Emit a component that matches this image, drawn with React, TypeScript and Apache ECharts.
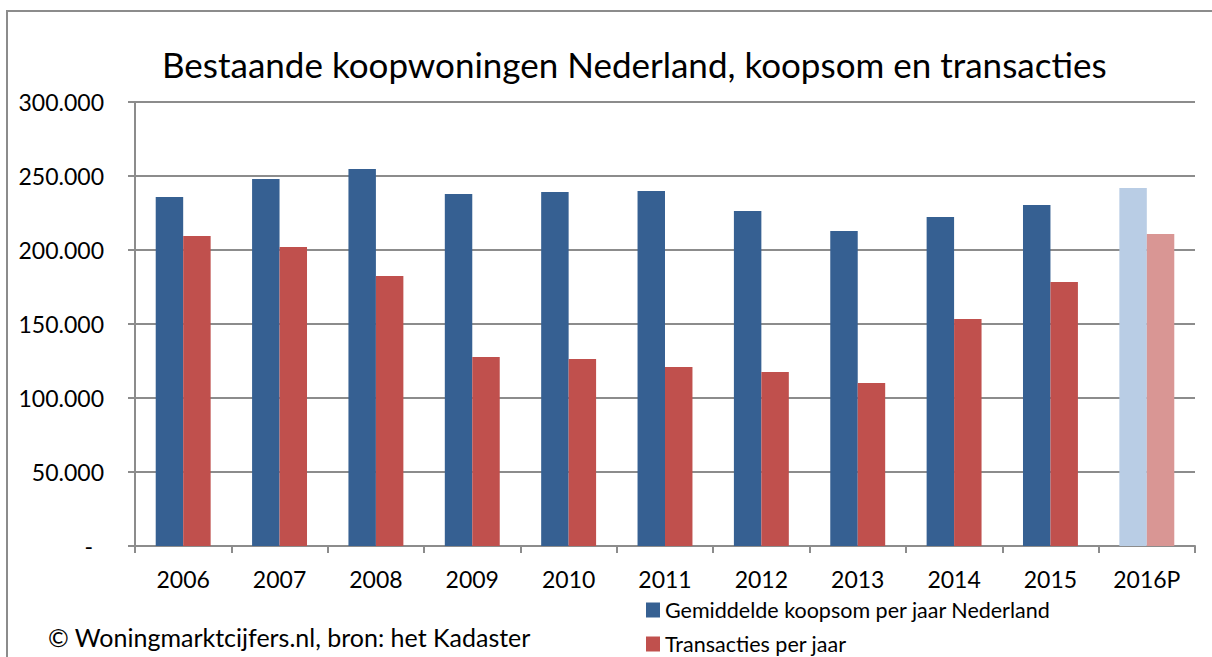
import React, { useEffect, useRef } from "react";
import * as echarts from "echarts";

const categories = ["2006", "2007", "2008", "2009", "2010", "2011", "2012", "2013", "2014", "2015", "2016P"];
const koopsom = [235800, 248000, 254700, 237800, 239200, 239900, 226400, 212800, 222300, 230400, 241900];
const transacties = [209500, 202000, 182400, 127700, 126400, 120900, 117600, 110100, 153400, 178400, 210800];
const yTicks = [0, 50000, 100000, 150000, 200000, 250000, 300000];

const seriesNames = ["Gemiddelde koopsom per jaar Nederland", "Transacties per jaar"];
const titleText = "Bestaande koopwoningen Nederland, koopsom en transacties";
const sourceText = "© Woningmarktcijfers.nl, bron: het Kadaster";

const BLUE = "#366092";
const RED = "#C0504D";
const BLUE_LIGHT = "#B9CDE5";
const RED_LIGHT = "#D99694";
const FONT = "Lato";

function fmt(v: number): string {
  if (v === 0) return "{d|-}";
  return String(v).replace(/\B(?=(\d{3})+(?!\d))/g, ".");
}

export default function App() {
  const ref = useRef<HTMLDivElement>(null);
  useEffect(() => {
    if (!ref.current) return;
    const chart = echarts.init(ref.current, undefined, { renderer: "svg" });
    const last = categories.length - 1;
    chart.setOption({
      animation: false,
      backgroundColor: "#ffffff",
      textStyle: { fontFamily: FONT },
      title: {
        text: titleText,
        left: 157,
        top: 41,
        textStyle: { fontFamily: FONT, fontSize: 35, fontWeight: "normal", color: "#000" },
      },
      graphic: [
        {
          type: "rect",
          shape: { x: 7, y: 11, width: 1300, height: 800 },
          style: { fill: "none", stroke: "#8c8c8c", lineWidth: 2 },
          silent: true,
        },
        {
          type: "text",
          left: 48,
          top: 624,
          style: { text: sourceText, font: `25px ${FONT}`, fill: "#000" },
        },
      ],
      legend: {
        orient: "vertical",
        left: 646,
        top: 598,
        height: 90,
        padding: 0,
        itemWidth: 14,
        itemHeight: 15,
        itemGap: 10,
        icon: "rect",
        textStyle: { fontFamily: FONT, fontSize: 21.5, lineHeight: 24, color: "#000" },
        data: seriesNames,
      },
      grid: { left: 135, right: 17, top: 102, bottom: 111, containLabel: false },
      xAxis: {
        type: "category",
        data: categories,
        axisLine: { lineStyle: { color: "#8c8c8c", width: 2 } },
        axisTick: { show: true, length: 7, lineStyle: { color: "#8c8c8c", width: 2 } },
        axisLabel: { margin: 21, fontFamily: FONT, fontSize: 23, color: "#000", interval: 0 },
      },
      yAxis: {
        type: "value",
        min: 0,
        max: 300000,
        interval: 50000,
        axisLine: { show: true, lineStyle: { color: "#8c8c8c", width: 2 } },
        axisTick: { show: true, length: 7, lineStyle: { color: "#8c8c8c", width: 2 } },
        splitLine: { lineStyle: { color: "#8c8c8c", width: 2 } },
        axisLabel: {
          margin: 31,
          fontFamily: FONT,
          fontSize: 23,
          color: "#000",
          formatter: (v: number) => (yTicks.includes(v) ? fmt(v) : ""),
          rich: { d: { fontFamily: FONT, fontSize: 23, color: "#000", padding: [0, 11, 0, 0] } },
        },
      },
      series: [
        {
          name: seriesNames[0],
          type: "bar",
          barGap: "0%",
          barCategoryGap: "43%",
          itemStyle: { color: BLUE },
          data: koopsom.map((v, i) => (i === last ? { value: v, itemStyle: { color: BLUE_LIGHT } } : v)),
        },
        {
          name: seriesNames[1],
          type: "bar",
          itemStyle: { color: RED },
          data: transacties.map((v, i) => (i === last ? { value: v, itemStyle: { color: RED_LIGHT } } : v)),
        },
      ],
    });
    return () => chart.dispose();
  }, []);
  return (
    <div
      ref={ref}
      style={{ position: "absolute", left: 0, top: 0, width: 1212, height: 657 }}
    />
  );
}
